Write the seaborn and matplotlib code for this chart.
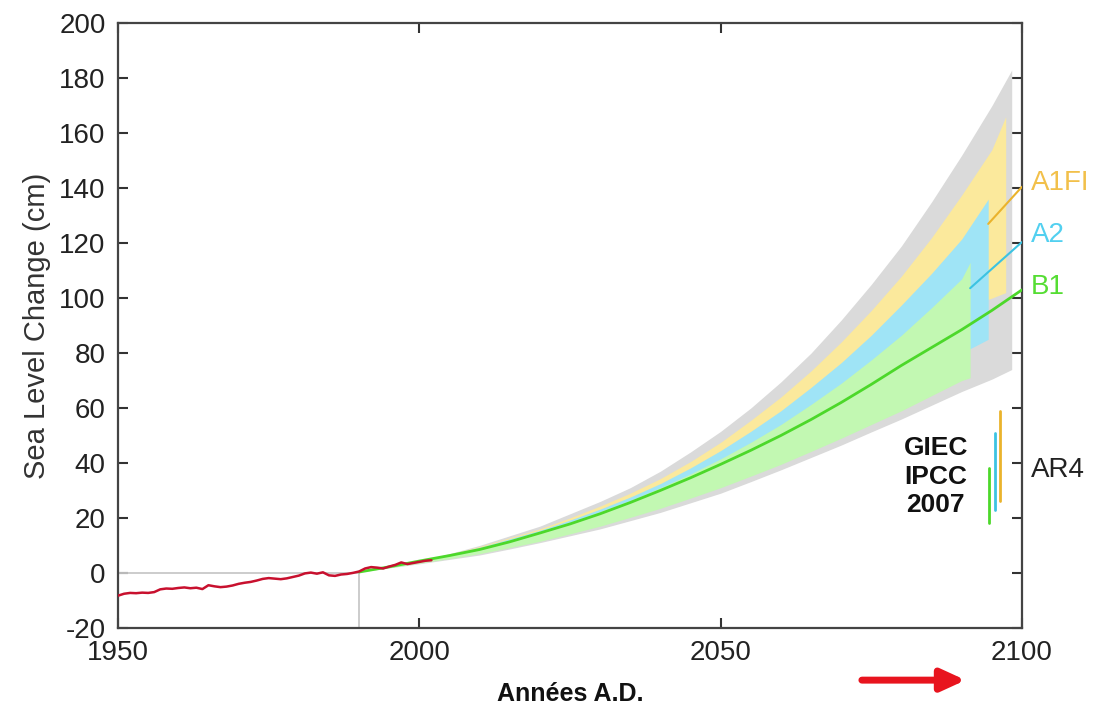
import numpy as np
import pandas as pd
import matplotlib
matplotlib.use("Agg")
import matplotlib.pyplot as plt
import seaborn as sns

# observed sea level (tide gauges), cm relative to 1990
obs_years = list(range(1950, 2003))
obs_level = [-8.3, -7.6, -7.3, -7.4, -7.2, -7.3, -7.0, -6.0, -5.7, -5.8,
             -5.5, -5.3, -5.6, -5.4, -5.9, -4.5, -4.9, -5.2, -5.0, -4.6,
             -4.0, -3.6, -3.3, -2.8, -2.2, -1.9, -2.1, -2.3, -2.0, -1.5,
             -1.0, -0.2, 0.1, -0.3, 0.2, -0.9, -1.1, -0.6, -0.4, 0.0,
             0.5, 1.6, 2.1, 1.9, 1.6, 2.3, 2.9, 3.8, 3.2, 3.6,
             4.0, 4.4, 4.6]

# projection envelopes (cm), 1990-2090 every 5 years
proj_years = list(range(1990, 2091, 5))
all_upper = [0.3, 2, 4.3, 7, 10, 13.5, 17, 21.5, 26, 31, 37, 44, 51.5,
             60, 69.5, 80, 92, 105, 119, 135, 152]
all_lower = [0.3, 1.8, 3.3, 4.9, 6.5, 8.7, 11, 13.5, 16, 19, 22, 25.5, 29,
             33.2, 37.5, 42, 46.5, 51.3, 56, 61, 66]
a1fi_upper = [0.3, 2, 4.2, 6.8, 9.6, 12.8, 16, 20, 24.3, 29, 34.3, 40.5, 47.5,
              55.5, 64, 73.5, 84, 95.5, 108, 122, 137.5]
a1fi_lower = [0.3, 2, 4.0, 6, 8, 10.5, 13, 16.3, 20, 23.8, 28, 32.8, 38,
              43.8, 50, 56.3, 63, 70.3, 78, 87, 96]
a2_upper = [0.3, 2, 4.2, 6.7, 9.3, 12.4, 15.5, 19.2, 23.2, 27.6, 32.5, 38.2, 44.5,
            51.5, 59, 67.5, 76.5, 86.5, 97.5, 109, 121.5]
a2_lower = [0.3, 2, 3.8, 5.6, 7.5, 10, 12.5, 15.5, 18.5, 22.2, 26, 30.5, 35,
            40, 45, 50.5, 56, 62, 68, 74, 80]
b1_upper = [0.3, 2, 4.2, 6.6, 9, 12, 15, 18.5, 22.3, 26.4, 31, 36, 41.5,
            47.5, 54, 61.3, 69, 77.5, 86.5, 96.5, 107]
b1_lower = [0.3, 1.9, 3.5, 5.2, 7, 9.2, 11.5, 14.2, 17, 20.2, 23.5, 27.2, 31,
            35.2, 39.5, 44.2, 49, 54, 59, 64.5, 70]

# tail of each envelope after 2090: (years, upper, lower)
all_tail = ([2095, 2098.3], [170, 183], [70.5, 74])
a1fi_tail = ([2095, 2097.3], [154, 166], [100, 102])
a2_tail = ([2094.4], [136], [85])
b1_tail = ([2091.4], [113], [71])

# central B1 projection
b1_years = list(range(1990, 2101, 5))
b1_mid = [0.3, 2.2, 4.3, 6.3, 8.5, 11.3, 14.5, 17.8, 21.5, 25.6, 30, 34.6, 39.5,
          44.6, 50, 55.8, 62, 68.6, 75.5, 82, 88.5, 95.5, 103]

# leader segments for A1FI and A2 (year, cm)
a1fi_lead = ([2094.4, 2100], [127, 140.5])
a2_lead = ([2091.4, 2100], [103.6, 120.4])

# AR4 ranges at 2100
ar4_names = ["B1", "A2", "A1FI"]
ar4_x = [2094.5, 2095.5, 2096.4]
ar4_low = [18, 23, 26]
ar4_high = [38, 51, 59]

col_gray = "#dadada"
col_yellow = "#fbe99c"
col_blue = "#9fe4f6"
col_green = "#c2f8b2"
line_green = "#4cd82a"
line_blue = "#3cc3e2"
line_orange = "#eab32c"
line_red = "#c8102e"

sns.set_theme(style="ticks")
plt.rcParams["font.family"] = ["Liberation Sans", "DejaVu Sans"]
plt.rcParams["axes.unicode_minus"] = False

fig = plt.figure(figsize=(10.93, 7.07), dpi=100)
ax = fig.add_axes([0.108, 0.112, 0.827, 0.855])


def band(upper, lower, tail, color):
    xs = proj_years + tail[0]
    ax.fill_between(xs, upper + tail[1], lower + tail[2],
                    color=color, linewidth=0, zorder=1)


band(all_upper, all_lower, all_tail, col_gray)
band(a1fi_upper, a1fi_lower, a1fi_tail, col_yellow)
band(a2_upper, a2_lower, a2_tail, col_blue)
band(b1_upper, b1_lower, b1_tail, col_green)

# reference lines at 1990 / 0 cm
ax.plot([1950, 1990], [0, 0], color="#c8c8c8", lw=1.3, zorder=2)
ax.plot([1990, 1990], [-20, 0], color="#c8c8c8", lw=1.3, zorder=2)

sns.lineplot(x=b1_years, y=b1_mid, color=line_green, lw=2, ax=ax, zorder=3)
sns.lineplot(x=a1fi_lead[0], y=a1fi_lead[1], color=line_orange, lw=1.5, ax=ax, zorder=3)
sns.lineplot(x=a2_lead[0], y=a2_lead[1], color=line_blue, lw=1.5, ax=ax, zorder=3)

obs = pd.DataFrame({"year": obs_years, "level": obs_level})
sns.lineplot(data=obs, x="year", y="level", color=line_red, lw=1.8, ax=ax, zorder=4)

ar4_cols = [line_green, line_blue, line_orange]
for xv, lo, hi, c in zip(ar4_x, ar4_low, ar4_high, ar4_cols):
    ax.plot([xv, xv], [lo, hi], color=c, lw=2, zorder=3)

ax.set_xlim(1950, 2100)
ax.set_ylim(-20, 200)
ax.set_xticks([1950, 2000, 2050, 2100])
ax.set_yticks(range(-20, 201, 20))
ax.tick_params(axis="both", direction="in", labelsize=20, colors="#333333",
               labelcolor="#222222", length=7, width=1.5,
               top=True, right=True, pad=9)
for s in ax.spines.values():
    s.set_color("#444444")
    s.set_linewidth(1.6)

ax.set_ylabel("Sea Level Change (cm)", fontsize=21, color="#333333", labelpad=6)
ax.set_xlabel("Années A.D.", fontsize=18, fontweight="bold", color="#111111", labelpad=11)

# scenario labels outside the right spine
ax.text(2101.5, 142, "A1FI", color="#f2c04a", fontsize=20, va="center", clip_on=False)
ax.text(2101.5, 123, "A2", color="#52d0f0", fontsize=20, va="center", clip_on=False)
ax.text(2101.5, 104, "B1", color="#55dd33", fontsize=20, va="center", clip_on=False)
ax.text(2101.5, 37.5, "AR4", color="#222222", fontsize=20, va="center", clip_on=False)
ax.text(2085.7, 35, "GIEC\nIPCC\n2007", color="#111111", fontsize=19,
        fontweight="bold", ha="center", va="center", linespacing=1.25)

ax.annotate("", xy=(0.886, 0.038), xytext=(0.786, 0.038),
            xycoords="figure fraction", textcoords="figure fraction",
            arrowprops=dict(arrowstyle="-|>,head_length=1.2,head_width=0.55",
                            color="#e8141e", lw=5))

fig.savefig("out.png", dpi=100)
